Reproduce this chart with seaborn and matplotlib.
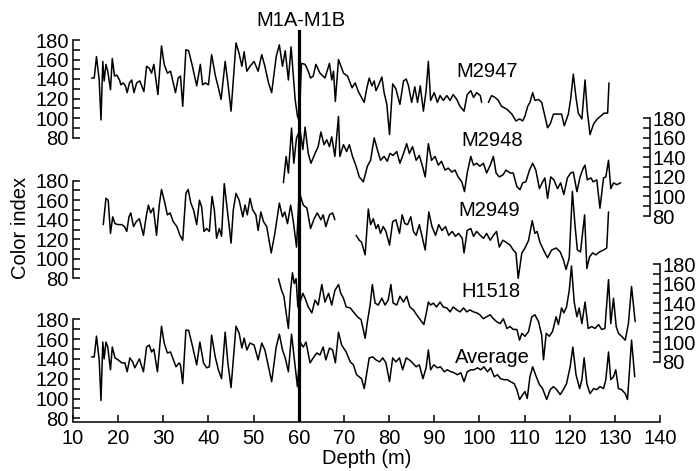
import numpy as np
import pandas as pd
import matplotlib
matplotlib.use("Agg")
import matplotlib.pyplot as plt
import seaborn as sns

# depth (m) / color index
m2947_depth_a = [14.1,14.7,15.2,15.8,16.2,16.6,16.9,17.3,17.7,18.3,18.7,19.2,19.7,20.3,20.6,21.1,21.6,22.0,22.5,23.0,
                 23.5,24.1,24.8,25.7,26.3,26.9,27.4,27.9,28.8,29.6,30.2,30.9,31.6,32.7,33.3,33.8,34.3,35.0,35.6,36.3,
                 37.4,38.2,38.7,39.3,40.0,40.7,41.5,42.2,42.8,43.7,44.3,45.0,46.1,46.8,47.4,47.9,48.5,49.2,50.1,51.0,
                 51.8,52.5,53.3,54.0,55.0,55.7,56.4,57.0,57.7,58.3,59.2,59.7,60.1,60.6,61.4,62.1,62.6,63.2,63.8,64.7,
                 65.8,66.8,67.3,67.7,68.1,68.8,69.9,70.8,71.8,72.5,73.2,74.5,75.0,75.6,
                 76.2,76.7,77.1,77.6,78.4,78.9,79.5,80.1,80.8,81.5,82.4,83.2,83.8,84.3,85.0,85.7,86.3,86.9,87.6,88.2,
                 88.7,89.2,90.0,90.7,91.3,92.0,92.8,93.5,94.2,95.0,95.7,96.6,97.3,98.1,98.7,99.4,100.2,100.5]
m2947_value_a = [141,141,163,139,98,158,138,155,148,129,161,143,144,139,134,136,133,126,136,139,
                 126,136,138,127,153,151,146,155,124,174,155,146,148,126,141,143,112,170,169,156,
                 133,155,134,136,134,165,144,131,119,158,136,107,177,166,153,168,148,153,158,148,
                 165,153,136,126,163,175,153,169,139,173,119,102,97,156,155,148,141,143,155,146,
                 141,156,139,148,117,160,146,143,131,136,127,116,129,141,
                 133,138,128,133,142,126,114,83,135,130,114,138,140,133,116,132,116,133,107,128,
                 158,118,126,116,123,118,123,118,124,119,112,107,124,128,121,126,123,116]
m2947_depth_b = [102.0,102.7,103.5,104.2,104.9,106.1,107.2,108.1,108.9,109.6,110.1,110.7,111.2,111.8,112.3,113.1,
                 113.8,114.4,115.1,115.7,116.4,117.5,118.2,118.8,119.7,120.2,120.8,121.4,121.9,122.7,123.4,123.9,
                 124.5,125.3,126.1,126.9,127.6,128.4,128.7]
m2947_value_b = [116,123,121,118,112,109,104,97,99,97,102,112,116,126,118,119,
                 116,104,90,94,104,104,104,92,104,119,145,121,105,99,139,107,
                 83,94,99,102,105,105,136]

m2948_depth = [56.6,57.2,57.7,58.4,58.9,59.5,60.3,60.9,61.4,62.1,62.7,63.6,64.3,64.9,65.6,66.2,66.8,67.3,68.0,68.8,
               69.1,69.9,70.6,71.2,71.9,72.7,73.4,74.3,75.2,75.9,76.7,77.4,78.1,78.9,79.6,80.2,80.9,81.7,82.4,83.2,
               83.9,84.5,85.2,86.0,86.7,87.4,88.0,88.7,89.4,90.2,90.9,91.6,92.4,93.1,93.9,94.6,95.3,96.1,96.7,97.3,
               98.1,98.7,99.4,100.1,100.9,101.6,102.4,103.1,103.7,104.4,105.2,105.9,106.8,107.5,108.3,109.0,109.6,
               110.3,111.1,111.8,112.5,113.3,113.9,114.5,115.1,115.8,116.5,117.3,118.0,118.7,119.5,120.2,120.8,
               121.6,122.3,123.0,123.4,123.9,124.7,125.2,126.0,126.7,127.5,128.0,128.6,129.1,129.7,130.4,131.3]
m2948_value = [114,141,124,170,134,160,168,148,171,144,134,144,151,166,153,158,151,161,141,182,
               141,153,146,153,141,131,120,115,131,137,160,148,137,141,136,144,142,146,134,144,
               154,144,151,137,142,131,120,154,137,141,132,136,127,129,125,127,120,115,105,124,
               141,132,134,131,134,124,132,141,124,120,122,127,124,124,110,107,114,
               115,127,134,127,108,114,119,98,120,117,108,114,102,119,124,125,
               105,120,129,132,117,119,115,117,88,119,120,137,108,114,112,114]

m2949_depth_a = [16.7,17.3,17.8,18.3,18.8,19.3,20.0,20.8,21.4,21.9,22.4,22.8,23.4,24.0,24.7,25.6,26.2,26.7,27.2,27.8,
                 28.5,29.1,29.6,30.2,30.9,31.5,32.2,33.0,33.7,34.3,35.0,35.5,36.1,36.7,37.4,38.0,38.5,39.0,39.6,40.2,
                 40.8,41.3,41.8,42.4,42.9,43.5,44.0,44.6,45.0,45.5,46.1,46.8,47.6,48.1,48.6,49.2,49.8,50.5,51.0,51.6,
                 52.2,52.9,53.9,54.7,55.7,56.4,56.9,57.5,58.2,58.8,59.5,60.0,60.4,61.0,61.8,62.6,63.4,64.1,64.9,65.4,
                 66.0,66.8,67.5,68.0]
m2949_value_a = [135,162,160,126,143,136,135,135,133,128,143,147,133,138,141,124,143,155,147,152,
                 124,155,171,160,145,147,138,133,124,119,167,171,157,150,135,160,153,128,131,128,
                 164,150,121,131,123,177,157,133,116,150,167,160,143,155,145,162,150,145,129,148,
                 138,133,106,126,157,143,148,136,155,138,112,160,164,155,152,131,141,147,140,145,
                 133,145,147,140]
m2949_depth_b = [72.7,73.4,73.9,74.7,75.4,75.9,76.5,77.1,77.6,78.1,78.7,79.3,80.1,80.8,81.5,82.3,82.9,83.5,84.1,84.8,
                 85.4,86.0,86.7,87.4,88.0,88.8,89.5,90.3,91.0,91.7,92.5,93.2,94.0,94.7,95.4,96.2,96.6,97.3,98.1,98.7,
                 99.4,100.2,100.9,101.6,102.4,103.1,103.8,104.4,105.2,105.9,106.8,107.5,108.1,108.6,109.4,110.1,110.9,
                 111.7,112.3,112.8,113.4,114.2,115.1,116.0,117.0,117.9,118.6,119.2,119.9,120.6,121.2,121.7,122.4,
                 123.3,123.8,124.4,125.1,125.8,126.6,127.5,128.2,128.6]
m2949_value_b = [124,119,117,104,151,135,141,131,135,126,133,128,114,138,140,126,145,136,135,143,
                 128,124,135,121,109,148,133,124,135,129,133,124,128,123,126,121,106,129,131,123,
                 128,124,121,126,119,124,128,112,119,117,114,109,106,80,106,111,119,
                 139,126,128,117,109,101,109,111,107,99,89,101,169,133,109,107,
                 145,90,102,106,104,107,109,111,148]

h1518_depth = [55.5,56.2,56.7,57.2,57.7,58.2,58.6,59.0,59.4,59.8,60.3,60.9,61.4,62.1,62.9,63.6,64.3,65.1,65.8,66.6,
               67.3,68.0,68.8,69.3,69.9,70.5,71.4,72.1,73.0,73.8,74.7,75.2,75.8,76.3,76.9,77.6,78.4,79.1,79.8,80.4,
               80.9,81.7,82.4,83.2,83.9,84.6,85.4,86.1,86.9,87.7,88.3,88.7,89.2,89.8,90.5,91.3,92.0,92.8,93.5,94.2,
               95.0,95.7,96.5,97.2,97.9,98.7,99.4,100.1,100.9,101.6,102.4,103.1,103.8,104.6,105.3,106.1,106.8,107.5,
               108.3,108.9,109.4,110.1,110.9,111.6,112.3,113.1,113.8,114.2,114.8,115.5,116.2,117.0,117.5,118.2,
               118.7,119.3,119.9,120.4,121.0,121.6,122.1,122.7,123.4,124.1,124.9,125.6,126.4,127.1,127.8,128.6,
               129.1,129.7,130.3,130.8,131.5,132.3,133.0,133.7,134.5]
h1518_value = [165,153,147,130,114,153,171,160,165,136,141,150,145,136,130,143,138,159,141,150,
               138,153,159,150,145,136,135,131,126,123,104,121,138,159,140,138,145,138,143,159,
               140,138,147,141,147,136,133,128,123,118,131,141,138,140,136,141,136,135,131,136,
               133,131,135,131,133,131,130,128,124,126,128,124,121,119,124,114,116,113,
               113,102,109,106,111,126,128,121,107,82,109,106,111,126,118,135,
               130,136,153,178,141,126,135,119,141,114,116,114,118,113,114,164,
               119,145,116,109,106,102,119,157,121]

average_depth = [14.1,14.7,15.2,15.8,16.2,16.6,16.9,17.3,17.7,18.3,18.7,19.3,20.0,20.8,21.5,22.0,22.6,23.2,23.7,24.7,
                 25.6,26.3,26.9,27.4,27.9,28.7,29.6,30.2,30.9,31.6,32.8,33.5,33.8,34.3,35.0,35.6,36.3,37.4,38.1,38.9,
                 39.6,40.2,40.7,41.5,42.2,42.9,43.7,44.3,45.0,46.1,46.8,47.4,47.9,48.5,49.2,50.1,51.0,51.8,52.5,53.3,
                 54.0,55.0,55.7,56.4,57.0,57.7,58.4,59.2,59.7,60.4,61.0,61.6,62.5,63.2,64.0,64.7,65.4,66.0,66.8,67.5,
                 68.1,68.8,69.5,70.5,71.4,72.1,72.8,73.9,74.5,75.0,75.6,
                 76.4,77.1,77.9,78.6,79.3,80.1,80.8,81.5,82.3,83.0,83.8,84.5,85.2,86.0,86.7,87.5,88.2,88.7,89.2,89.9,
                 90.7,91.4,92.2,92.9,93.7,94.4,95.1,95.9,96.6,97.3,98.1,98.8,99.6,100.3,101.0,101.8,102.5,103.3,104.0,
                 104.7,105.5,106.2,106.9,107.7,108.3,108.9,109.6,110.1,110.6,111.2,111.8,112.6,113.3,114.0,114.9,
                 115.7,116.4,117.1,117.9,118.6,119.3,120.1,120.7,121.4,122.2,122.7,123.2,123.8,124.5,125.3,126.0,
                 126.7,127.5,128.0,128.6,129.1,129.7,130.2,130.8,131.5,132.3,132.8,133.7,134.4]
average_value = [142,142,163,139,98,157,140,157,152,129,152,141,139,136,136,127,141,137,131,140,
                 127,152,154,147,150,127,173,156,146,147,132,136,134,115,169,169,156,134,157,136,
                 131,132,164,142,129,120,167,136,111,173,166,151,161,149,156,154,139,156,149,132,
                 117,152,165,149,141,127,165,132,112,156,152,157,136,141,146,144,152,139,151,149,
                 136,167,154,147,137,134,124,120,110,124,141,
                 142,139,137,141,136,117,141,137,141,129,141,139,136,132,134,120,131,149,129,134,
                 131,132,127,129,127,126,124,126,117,127,129,129,131,129,132,127,131,122,124,
                 120,119,119,117,115,109,99,104,107,100,122,132,122,114,110,99,
                 109,112,109,104,109,115,132,152,124,110,119,141,115,105,110,109,
                 112,110,119,147,119,122,129,110,109,105,99,159,122]

depth_ticks = list(range(10, 141, 10))
index_ticks = [80, 100, 120, 140, 160, 180]


def to_frame(*segments):
    parts = []
    for i, (d, v) in enumerate(segments):
        parts.append(pd.DataFrame({"depth": d, "value": v, "seg": i}))
    return pd.concat(parts, ignore_index=True)


sns.set_style("ticks")
plt.rcParams["font.family"] = ["Liberation Sans", "DejaVu Sans"]
plt.rcParams["font.size"] = 14.5
# plain black text and axes, like the original
for key in ["text.color", "axes.labelcolor", "xtick.color", "ytick.color", "axes.edgecolor"]:
    plt.rcParams[key] = "black"

W, H = 699, 471
LEFT, RIGHT, TOP, BOTTOM = 73, 660, 30, 421.7   # pixel frame of the plot
fig = plt.figure(figsize=(W / 100, H / 100), dpi=100)
rect = [LEFT / W, 1 - BOTTOM / H, (RIGHT - LEFT) / W, (BOTTOM - TOP) / H]

ax = fig.add_axes(rect)
ax.set_xlim(10, 140)
ax.set_ylim(0, 1)
ax.set_xticks(depth_ticks)
ax.set_yticks([])
for s in ["left", "right", "top"]:
    ax.spines[s].set_visible(False)
ax.spines["bottom"].set_linewidth(1.1)
ax.tick_params(axis="x", direction="in", length=5, width=1.1, pad=5, labelsize=14.5)
ax.set_xlabel("Depth (m)", fontsize=14.5, labelpad=1)
ax.axvline(60, color="black", lw=2.3)
ax.annotate("M1A-M1B", xy=(60.5, 1), xycoords=("data", "axes fraction"),
            xytext=(0, 7), textcoords="offset points", ha="center", va="center", fontsize=14.5)

# (name, frame, y pixel of 180, y pixel of 80, side, spine pos, label x, label y)
series = [
    ("M2947", to_frame((m2947_depth_a, m2947_value_a), (m2947_depth_b, m2947_value_b)), 40.0, 137.5, "left", 0.0, 101.7, 148),
    ("M2948", to_frame((m2948_depth, m2948_value)), 118.3, 216.0, "right", (650 - LEFT) / (RIGHT - LEFT), 102.8, 157),
    ("M2949", to_frame((m2949_depth_a, m2949_value_a), (m2949_depth_b, m2949_value_b)), 180.7, 278.3, "left", 0.0, 102.1, 149),
    ("H1518", to_frame((h1518_depth, h1518_value)), 264.0, 361.7, "right", 1.0, 102.6, 152),
    ("Average", to_frame((average_depth, average_value)), 319.3, 418.3, "left", 0.0, 102.8, 141),
]

for name, df, p180, p80, side, pos, lx, ly in series:
    sax = fig.add_axes(rect, sharex=ax)
    sax.patch.set_alpha(0)
    sns.lineplot(data=df, x="depth", y="value", units="seg", estimator=None,
                 color="black", lw=1.1, ax=sax)
    scale = (p80 - p180) / 100.0
    sax.set_ylim(80 - (BOTTOM - p80) / scale, 180 + (p180 - TOP) / scale)
    sax.set_xlim(10, 140)
    sax.set_xlabel("")
    sax.set_ylabel("")
    sax.xaxis.set_visible(False)
    for s in ["top", "bottom", "left", "right"]:
        sax.spines[s].set_visible(False)
    sp = sax.spines[side]
    sp.set_visible(True)
    sp.set_bounds(80, 180)
    sp.set_linewidth(1.1)
    sp.set_position(("axes", pos))
    if side == "right":
        sax.yaxis.tick_right()
    sax.set_yticks(index_ticks)
    sax.set_yticks([90, 110, 130, 150, 170], minor=True)
    sax.tick_params(axis="y", which="both", direction="in", length=5, width=1.1,
                    pad=3 if side == "left" else 1.5, labelsize=14.5)
    sax.text(lx, ly, name, ha="center", va="center", fontsize=14.5)

fig.text(21 / W, 1 - 228 / H, "Color index", rotation=90, ha="center", va="center", fontsize=14.5)

fig.savefig("out.png", dpi=100)
